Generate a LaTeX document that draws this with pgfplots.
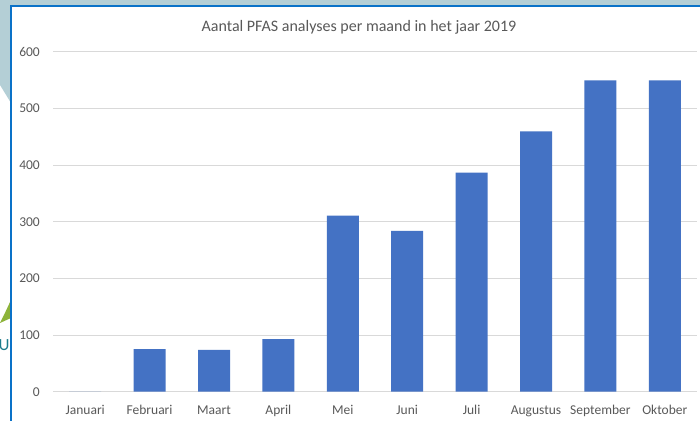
\documentclass[border=0pt]{standalone}
\usepackage{pgfplots}
\pgfplotsset{compat=1.18}
\usepackage{fontspec}
\setmainfont{Carlito}
\definecolor{bgblue}{HTML}{B4CFD6}
\definecolor{arrowgreen}{HTML}{8DB33A}
\definecolor{tealU}{HTML}{1C7C8C}
\definecolor{frameblue}{HTML}{0A72C8}
\definecolor{barblue}{HTML}{4472C4}
\definecolor{gridgray}{HTML}{D9D9D9}
\definecolor{textgray}{HTML}{595959}
\begin{document}
\begin{tikzpicture}
\useasboundingbox (0bp,0bp) rectangle (700bp,421bp);
\fill[white] (0bp,0bp) rectangle (700bp,421bp);
\fill[bgblue] (0bp,421bp) -- (700bp,421bp) -- (700bp,415bp) -- (11bp,415bp) -- (11bp,318bp) -- (0bp,336bp) -- cycle;
\fill[arrowgreen] (0bp,98bp) -- (4bp,106bp) -- (11bp,121bp) -- (11bp,103bp) -- cycle;
\node[text=tealU, font=\fontsize{17bp}{18bp}\selectfont, inner sep=0pt] at (4bp,76bp) {U};
\fill[white] (11bp,0bp) rectangle (700bp,415bp);
\draw[frameblue, line width=2bp] (11bp,0bp) -- (11bp,415bp) -- (700bp,415bp);
\node[text=textgray, font=\fontsize{16bp}{18bp}\selectfont, anchor=base, inner sep=0pt] at (359bp,389bp) {Aantal PFAS analyses per maand in het jaar 2019};
\begin{axis}[
  at={(53bp,29.3bp)}, anchor=south west,
  scale only axis, width=644bp, height=339.7bp,
  xmin=-0.5, xmax=9.5, ymin=0, ymax=600,
  axis line style={draw=none},
  ytick={0,100,...,600},
  xtick={0,...,9},
  xticklabels={Januari,Februari,Maart,April,Mei,Juni,Juli,Augustus,September,Oktober},
  major tick length=0pt,
  tick style={draw=none},
  ymajorgrids, grid style={gridgray, line width=1bp},
  tick label style={text=textgray, font=\fontsize{13.5bp}{15bp}\selectfont},
  /pgf/number format/assume math mode=true,
  yticklabel style={anchor=east, inner sep=0pt, xshift=-13bp},
  xticklabel style={anchor=base, inner sep=0pt, yshift=-22.8bp},
  axis on top=false,
]
\addplot[ybar, bar width=32bp, fill=barblue, draw=none] coordinates {
 (0,0) (1,75) (2,74) (3,93) (4,311) (5,284) (6,387) (7,460) (8,550) (9,550)};
\end{axis}
\end{tikzpicture}
\end{document}
